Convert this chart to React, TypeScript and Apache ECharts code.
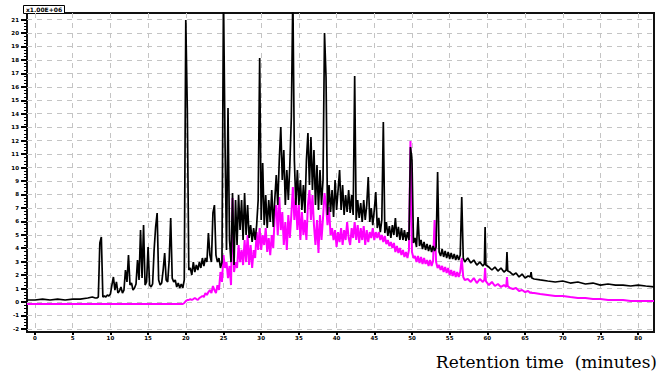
import React, { useEffect, useRef } from "react";
import * as echarts from "echarts";

// Retention time (minutes) of each sample
const times = [
  -1.06, 0, 1, 2, 3, 4, 5, 6, 7, 7.6,
  8, 8.2, 8.4, 8.6, 8.8, 9, 9.2, 9.4, 9.6, 9.8,
  10, 10.2, 10.4, 10.6, 10.8, 11, 11.2, 11.4, 11.6, 11.8,
  12, 12.2, 12.4, 12.6, 12.8, 13, 13.2, 13.4, 13.6, 13.8,
  14, 14.2, 14.4, 14.6, 14.8, 15, 15.2, 15.4, 15.6, 15.8,
  16, 16.2, 16.4, 16.6, 16.8, 17, 17.2, 17.4, 17.6, 17.8,
  18, 18.2, 18.4, 18.6, 18.8, 19, 19.2, 19.4, 19.6, 19.8,
  20, 20.2, 20.4, 20.6, 20.8, 21, 21.2, 21.4, 21.6, 21.8,
  22, 22.2, 22.4, 22.6, 22.8, 23, 23.2, 23.4, 23.6, 23.8,
  24, 24.2, 24.4, 24.6, 24.8, 25, 25.2, 25.4, 25.6, 25.8,
  26, 26.2, 26.4, 26.6, 26.8, 27, 27.2, 27.4, 27.6, 27.8,
  28, 28.2, 28.4, 28.6, 28.8, 29, 29.2, 29.4, 29.6, 29.8,
  30, 30.2, 30.4, 30.6, 30.8, 31, 31.2, 31.4, 31.6, 31.8,
  32, 32.2, 32.4, 32.6, 32.8, 33, 33.2, 33.4, 33.6, 33.8,
  34, 34.2, 34.4, 34.6, 34.8, 35, 35.2, 35.4, 35.6, 35.8,
  36, 36.2, 36.4, 36.6, 36.8, 37, 37.2, 37.4, 37.6, 37.8,
  38, 38.2, 38.4, 38.6, 38.8, 39, 39.2, 39.4, 39.6, 39.8,
  40, 40.2, 40.4, 40.6, 40.8, 41, 41.2, 41.4, 41.6, 41.8,
  42, 42.2, 42.4, 42.6, 42.8, 43, 43.2, 43.4, 43.6, 43.8,
  44, 44.2, 44.4, 44.6, 44.8, 45, 45.2, 45.4, 45.6, 45.8,
  46, 46.2, 46.4, 46.6, 46.8, 47, 47.2, 47.4, 47.6, 47.8,
  48, 48.2, 48.4, 48.6, 48.8, 49, 49.2, 49.4, 49.6, 49.8,
  50, 50.2, 50.4, 50.6, 50.8, 51, 51.2, 51.4, 51.6, 51.8,
  52, 52.2, 52.4, 52.6, 52.8, 53, 53.2, 53.4, 53.6, 53.8,
  54, 54.2, 54.4, 54.6, 54.8, 55, 55.2, 55.4, 55.6, 55.8,
  56, 56.2, 56.4, 56.6, 56.8, 57,
  57.4, 57.8, 58.2, 58.6, 59, 59.4, 59.6, 59.7, 59.8, 60.2, 60.6, 61, 61.4, 61.8, 62.2,
  62.5, 62.6, 62.7, 63, 63.4, 63.8, 64.2, 64.6, 65, 65.4, 65.7, 65.8, 65.9, 66.2,
  67, 68, 69, 70, 71, 72, 73, 74, 75, 76, 77, 78, 79, 80, 81, 82.1,
];

// Black trace
const blackTrace = [
  0.15, 0.15, 0.22, 0.15, 0.22, 0.15, 0.22, 0.22, 0.3, 0.37,
  0.3, 0.3, 0.37, 4.39, 4.83, 0.37, 0.45, 0.37, 0.52, 0.45,
  0.59, 1.26, 1.86, 0.89, 1.49, 0.67, 0.82, 1.12, 0.67, 0.89,
  2.38, 1.49, 3.49, 1.26, 1.41, 0.89, 1.04, 1.34, 3.12, 1.64,
  5.35, 1.78, 5.72, 1.26, 1.49, 4.09, 1.26, 1.12, 1.34, 3.87,
  5.58, 6.62, 1.64, 1.26, 1.41, 2.38, 3.64, 1.64, 1.49, 3.12,
  6.25, 1.78, 1.49, 1.64, 1.12, 1.41, 1.04, 1.34, 1.04, 1.64,
  20.97, 14.42, 2.38, 2.53, 2.01, 2.97, 2.23, 2.75, 2.38, 2.97,
  2.53, 3.27, 2.68, 3.27, 2.97, 5.13, 3.49, 2.97, 6.62, 7.21,
  3.49, 2.97, 3.27, 2.53, 2.97, 23, 12.04, 3.87, 14.42, 4.61,
  2.97, 8.1, 2.75, 7.58, 4.24, 7.96, 5.35, 7.58, 4.61, 8.1,
  4.98, 7.21, 4.76, 5.72, 4.46, 5.5, 4.61, 5.72, 7.58, 18.14,
  6.1, 10.33, 5.72, 7.96, 5.5, 7.58, 5.95, 8.33, 5.58, 7.58,
  9.44, 7.21, 10.56, 13.01, 9.07, 11.3, 7.21, 9.81, 7.58, 10.19,
  13.75, 23, 10.56, 7.21, 9.81, 7.21, 9.07, 6.84, 8.7, 6.62,
  10.56, 12.57, 8.7, 12.27, 8.33, 11.3, 7.21, 10.19, 6.84, 9.81,
  7.21, 9.07, 20.0, 16.73, 6.47, 8.7, 6.69, 8.33, 6.32, 9.07,
  6.84, 8.33, 9.81, 6.84, 8.7, 6.47, 7.96, 6.69, 8.33, 6.62,
  7.96, 6.47, 16.8, 6.1, 7.58, 6.25, 7.36, 5.95, 7.58, 6.1,
  7.21, 9.29, 5.95, 6.99, 5.72, 6.84, 8.18, 5.5, 6.25, 5.2,
  6.1, 13.38, 5.13, 5.95, 4.91, 5.65, 4.76, 5.72, 4.98, 6.25,
  4.83, 5.58, 4.61, 5.5, 4.61, 5.35, 4.54, 5.2, 4.61, 11.52,
  10.56, 4.39, 4.76, 4.09, 6.32, 4.16, 4.61, 3.94, 4.46, 3.87,
  4.31, 3.79, 4.24, 3.72, 4.16, 3.79, 4.09, 9.67, 3.72, 3.42,
  3.94, 3.35, 3.79, 3.27, 3.72, 3.2, 3.64, 3.2, 3.57, 3.12,
  3.49, 3.12, 3.49, 7.81, 3.27, 2.97,
  3.27, 2.9, 3.12, 2.75, 2.97, 2.68, 2.83, 5.58, 2.75, 2.6, 2.38, 2.6, 2.3, 2.53, 2.23,
  2.38, 3.72, 2.3, 2.23, 2.01, 2.16, 1.86, 2.08, 1.78, 1.93, 1.86, 2.23, 1.78, 1.71,
  1.64, 1.56, 1.49, 1.56, 1.41, 1.49, 1.34, 1.41, 1.26, 1.34, 1.26, 1.26, 1.19, 1.26, 1.19, 1.12,
];

// Magenta trace
const magentaTrace = [
  -0.15, -0.15, -0.15, -0.15, -0.15, -0.15, -0.15, -0.15, -0.15, -0.15,
  -0.15, -0.15, -0.15, -0.15, -0.15, -0.15, -0.15, -0.15, -0.15, -0.15,
  -0.15, -0.15, -0.15, -0.15, -0.15, -0.15, -0.15, -0.15, -0.15, -0.15,
  -0.15, -0.15, -0.15, -0.15, -0.15, -0.15, -0.15, -0.15, -0.15, -0.15,
  -0.15, -0.15, -0.15, -0.15, -0.15, -0.15, -0.15, -0.15, -0.15, -0.15,
  -0.15, -0.15, -0.15, -0.15, -0.15, -0.15, -0.15, -0.15, -0.15, -0.15,
  -0.15, -0.15, -0.15, -0.15, -0.15, -0.15, -0.15, -0.15, -0.15, -0.07,
  0.07, 0.15, 0.15, 0.22, 0.15, 0.22, 0.3, 0.22, 0.15, 0.3,
  0.37, 0.45, 0.37, 0.67, 0.52, 0.74, 0.89, 0.67, 1.19, 0.89,
  0.67, 1.26, 0.89, 2.23, 1.49, 3.49, 2.53, 2.97, 1.78, 2.68,
  1.26, 7.73, 2.23, 2.97, 2.53, 4.24, 2.97, 3.87, 2.75, 4.61,
  2.97, 4.98, 2.75, 4.24, 2.53, 3.87, 3.27, 5.2, 3.87, 5.5,
  3.87, 4.98, 4.24, 5.5, 3.72, 4.76, 3.49, 4.98, 4.01, 6.47,
  7.21, 4.98, 7.81, 5.35, 6.69, 4.24, 5.95, 3.87, 6.47, 4.76,
  6.47, 8.55, 6.1, 7.73, 5.35, 7.21, 4.61, 6.69, 4.98, 6.1,
  4.61, 7.21, 8.33, 6.1, 7.96, 5.72, 4.24, 6.1, 3.64, 6.47,
  4.61, 6.25, 8.1, 7.21, 5.72, 7.06, 4.98, 5.5, 4.61, 5.35,
  4.09, 5.2, 4.46, 5.5, 4.24, 5.35, 4.61, 5.95, 4.76, 4.24,
  5.5, 4.76, 5.95, 4.61, 5.72, 4.39, 5.5, 4.61, 5.65, 4.24,
  5.35, 4.46, 5.2, 4.76, 5.5, 4.61, 5.2, 4.76, 5.2, 4.61,
  4.98, 4.46, 4.91, 4.31, 4.61, 4.16, 4.46, 4.01, 4.39, 3.72,
  4.16, 3.64, 4.01, 3.49, 3.87, 3.35, 3.72, 3.27, 3.87, 11.97,
  3.72, 3.27, 3.42, 2.97, 3.42, 2.9, 3.35, 2.83, 3.27, 2.83,
  3.12, 2.68, 3.12, 2.68, 3.05, 6.1, 2.97, 2.53, 2.75, 2.38,
  2.68, 2.23, 2.6, 2.16, 2.53, 2.01, 2.38, 1.93, 2.3, 1.86,
  2.23, 1.86, 2.23, 3.27, 1.86, 1.64,
  1.71, 1.49, 1.78, 1.41, 1.71, 1.49, 1.64, 2.53, 1.56, 1.26, 1.49, 1.19, 1.34, 1.12, 1.26,
  1.12, 1.86, 1.19, 1.04, 0.97, 1.04, 0.82, 0.89, 0.74, 0.82, 0.67, 0.74, 0.67, 0.67,
  0.59, 0.52, 0.45, 0.45, 0.37, 0.3, 0.3, 0.22, 0.22, 0.15, 0.15, 0.15, 0.07, 0.07, 0.07, 0.07,
];

const xTicks = [0, 5, 10, 15, 20, 25, 30, 35, 40, 45, 50, 55, 60, 65, 70, 75, 80];
const yTicks = [-2, -1, 0, 1, 2, 3, 4, 5, 6, 7, 8, 9, 10, 11, 12, 13, 14, 15, 16, 17, 18, 19, 20, 21];
const axisTitle = "Retention time  (minutes)";
const scaleNote = "x1.00E+06";

export default function App() {
  const ref = useRef<HTMLDivElement>(null);
  useEffect(() => {
    document.body.style.margin = "0";
    if (!ref.current) return;
    const chart = echarts.init(ref.current, null, { renderer: "svg" });
    const minorTicks: number[] = [];
    yTicks.forEach((t) => {
      if (t < 21) minorTicks.push(t + 0.25, t + 0.5, t + 0.75);
    });
    const blackData = times.map((t, i) => [t, blackTrace[i]]);
    const magentaData = times.map((t, i) => [t, magentaTrace[i]]);
    const gridLine = { show: true, lineStyle: { color: "#c4c4c4", width: 1, type: [5, 5] as any } };
    chart.setOption({
      animation: false,
      backgroundColor: "#ffffff",
      grid: { left: 27, right: 12, top: 13, bottom: 48, show: true, borderColor: "#111", borderWidth: 2, backgroundColor: "transparent" },
      xAxis: {
        type: "value",
        min: -1.06,
        max: 82.1,
        axisLine: { show: false, onZero: false },
        axisTick: { show: true, customValues: xTicks, length: 3, lineStyle: { color: "#000", width: 2 } },
        axisLabel: { customValues: xTicks, margin: 3, fontSize: 5.5, fontWeight: "bold", color: "#000", fontFamily: "DejaVu Sans" },
        splitLine: gridLine,
      },
      yAxis: [
        {
          type: "value",
          min: -2.23,
          max: 21.49,
          axisLine: { show: false, onZero: false },
          axisTick: { show: true, customValues: yTicks, length: 6, lineStyle: { color: "#000", width: 2 } },
          axisLabel: { customValues: yTicks, margin: 8, fontSize: 5.5, fontWeight: "bold", color: "#000", fontFamily: "DejaVu Sans" },
          splitLine: gridLine,
        },
        {
          type: "value",
          min: -2.23,
          max: 21.49,
          position: "left",
          axisLine: { show: false, onZero: false },
          axisTick: { show: true, customValues: minorTicks, length: 3, lineStyle: { color: "#000", width: 1 } },
          axisLabel: { show: false },
          splitLine: { show: false },
        },
      ],
      series: [
        { type: "line", data: magentaData, symbol: "none", silent: true, z: 2, lineStyle: { color: "#ff00ff", width: 2 } },
        { type: "line", data: blackData, symbol: "none", silent: true, z: 3, lineStyle: { color: "#000000", width: 1.7 } },
      ],
      graphic: [
        { type: "rect", shape: { x: 23.5, y: 5.5, width: 41, height: 8 }, style: { fill: "#fff", stroke: "#000", lineWidth: 1 } },
        { type: "text", x: 44, y: 9, style: { text: scaleNote, fill: "#000", fontSize: 6, fontWeight: "bold", fontFamily: "DejaVu Sans", align: "center", verticalAlign: "middle" } },
        { type: "text", x: 657, y: 362, style: { text: axisTitle, fill: "#000", fontSize: 17, fontFamily: "DejaVu Serif", align: "right", verticalAlign: "middle" } },
      ],
    });
    return () => chart.dispose();
  }, []);
  return <div ref={ref} style={{ width: 666, height: 380 }} />;
}
